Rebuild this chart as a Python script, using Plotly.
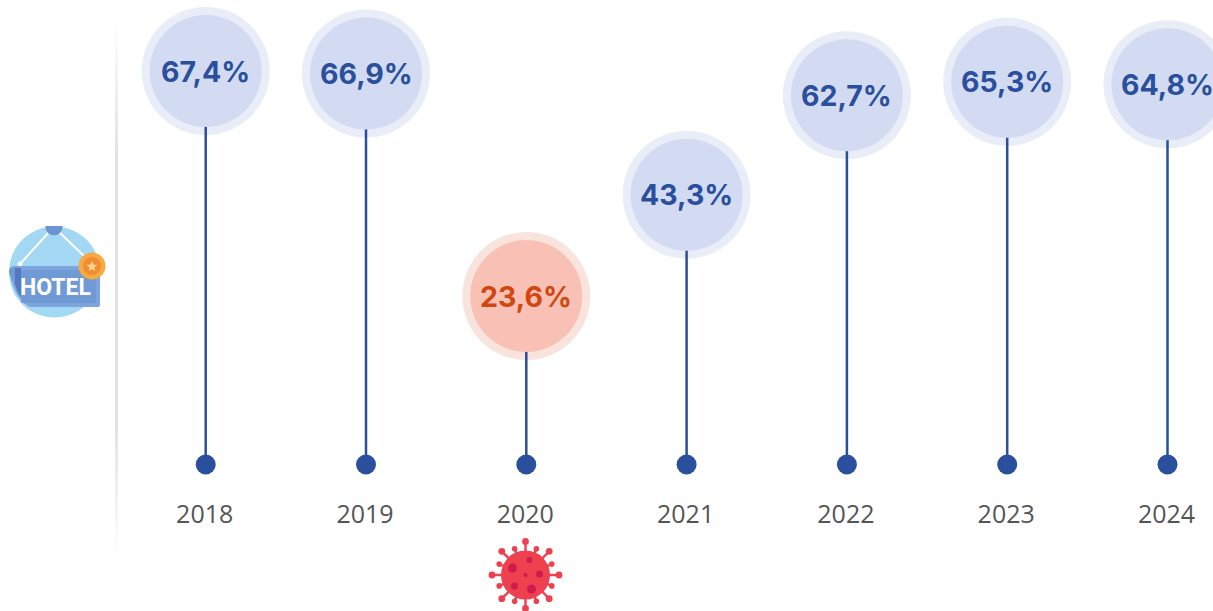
import base64
import math
import plotly.graph_objects as go

years = ["2018", "2019", "2020", "2021", "2022", "2023", "2024"]
rates = [67.4, 66.9, 23.6, 43.3, 62.7, 65.3, 64.8]
labels = ["67,4%", "66,9%", "23,6%", "43,3%", "62,7%", "65,3%", "64,8%"]
covid_year = "2020"
baseline = -9.2

W, H = 1213, 611
PLOT_BOTTOM = 497
BLUE = "#2A4F9C"
outer = ["#F9E3DD" if y == covid_year else "#E9EDF8" for y in years]
inner = ["#F9C1B5" if y == covid_year else "#D3DBF2" for y in years]
text_colors = ["#D0470F" if y == covid_year else BLUE for y in years]


def uri(svg):
    return "data:image/svg+xml;base64," + base64.b64encode(svg.encode()).decode()


def place(svg, left, top, w, h):
    return dict(source=uri(svg), xref="paper", yref="paper", x=left / W,
                y=(PLOT_BOTTOM - top) / PLOT_BOTTOM, sizex=w / W, sizey=h / PLOT_BOTTOM,
                xanchor="left", yanchor="top", sizing="stretch", layer="below")


rule_svg = ('<svg xmlns="http://www.w3.org/2000/svg" width="4" height="540" viewBox="0 0 4 540">'
            '<defs><linearGradient id="g" x1="0" y1="0" x2="0" y2="1">'
            '<stop offset="0" stop-color="#e2e2e2" stop-opacity="0"/>'
            '<stop offset="0.25" stop-color="#e2e2e2"/><stop offset="0.75" stop-color="#e2e2e2"/>'
            '<stop offset="1" stop-color="#e2e2e2" stop-opacity="0"/></linearGradient></defs>'
            '<rect x="0.5" width="3" height="540" fill="url(#g)"/></svg>')

spikes = ""
for k in range(16):
    a = k * math.pi / 8
    r = 33.5 if k % 2 == 0 else 28.5
    kn = 3.4 if k % 2 == 0 else 2.8
    x, y = 38 + r * math.cos(a), 38 + r * math.sin(a)
    spikes += (f'<line x1="38" y1="38" x2="{x:.1f}" y2="{y:.1f}" stroke="#EE4150" stroke-width="2.4"/>'
               f'<circle cx="{x:.1f}" cy="{y:.1f}" r="{kn}" fill="#EE4150"/>')
spots = [(-13, -7, 4.5), (4, -15, 3), (14, -1, 3.5), (0, 0, 2), (-11, 11, 3.5), (6, 14, 4.5)]
spots_svg = "".join(f'<circle cx="{38+a}" cy="{38+b}" r="{c}" fill="#CF1B4B"/>' for a, b, c in spots)
virus_svg = ('<svg xmlns="http://www.w3.org/2000/svg" width="76" height="76" viewBox="0 0 76 76">'
             + spikes + '<circle cx="38" cy="38" r="24.5" fill="#EE4150"/>' + spots_svg + '</svg>')

hotel_svg = ('<svg xmlns="http://www.w3.org/2000/svg" width="110" height="100" viewBox="0 0 110 100">'
             '<circle cx="54.5" cy="46" r="45.5" fill="#A3D8F5"/>'
             '<path d="M20 38 L50 5 M58 5 L84 30" stroke="#fff" stroke-width="2" fill="none"/>'
             '<circle cx="54" cy="1" r="8.5" fill="#6C94D0"/>'
             '<circle cx="20" cy="38" r="2.4" fill="#fff"/>'
             '<path d="M9 46 Q9 40 15 40 L100 40 L100 79 Q100 81 98 81 L30 81 Q16 75 9 46 Z" fill="#7EA4DD"/>'
             '<path d="M9 46 Q9 41 14 41 L15 41 L15 58 Q11 52 9 46 Z" fill="#6F9AD6"/>'
             '<path d="M15 42 L21 42 L21 71 Q17 66 15 58 Z" fill="#5578BE"/>'
             '<rect x="21" y="44" width="75" height="33" rx="1" fill="#6F9AD6"/>'
             '<circle cx="92" cy="40" r="13.5" fill="#F8A93F"/>'
             '<circle cx="92" cy="40" r="9" fill="#F08C33"/>'
             '<path d="M92 35 L93.6 38.6 L97.4 39 L94.5 41.5 L95.3 45 L92 43.2 L88.7 45 L89.5 41.5 L86.6 39 L90.4 38.6 Z" fill="#FFD48A"/>'
             '</svg>')

fig = go.Figure()

fig.add_trace(go.Scatter(x=years, y=rates, mode="markers",
                         marker=dict(size=128, color=outer), hoverinfo="skip", showlegend=False))
for year, rate in zip(years, rates):
    fig.add_trace(go.Scatter(x=[year, year], y=[baseline, rate], mode="lines",
                             line=dict(color=BLUE, width=2.5), hoverinfo="skip", showlegend=False))

fig.add_trace(go.Scatter(x=years, y=[baseline] * len(years), mode="markers",
                         marker=dict(size=20, color=BLUE), hoverinfo="skip", showlegend=False))
fig.add_trace(go.Scatter(x=years, y=rates, mode="markers", text=labels,
                         marker=dict(size=112, color=inner),
                         hovertemplate="%{x}: %{text}<extra></extra>", showlegend=False))

value_notes = [dict(text=lab, x=i, y=r, xref="x", yref="y", showarrow=False,
                    xanchor="center", yanchor="middle",
                    font=dict(family="Inter", size=28.5, color=c, weight="bold"))
               for i, (lab, r, c) in enumerate(zip(labels, rates, text_colors))]

fig.update_layout(
    width=W, height=H, margin=dict(l=0, r=0, t=0, b=H - PLOT_BOTTOM),
    paper_bgcolor="white", plot_bgcolor="white",
    xaxis=dict(type="category", categoryorder="array", categoryarray=years,
               range=[-205.7 / 160.3, (W - 205.7) / 160.3], showgrid=False, zeroline=False, showline=False,
               ticks="", ticklabelshift=-1,
               tickfont=dict(family="Open Sans", size=25, color="#555555")),
    yaxis=dict(range=[23.6 - (PLOT_BOTTOM - 296) / 5.137, 23.6 + 296 / 5.137],
               visible=False, showgrid=False, zeroline=False),
    images=[place(rule_svg, 114.5, 20, 4, 540),
            place(virus_svg, 487.5, 537, 76, 76),
            place(hotel_svg, 0, 226, 110, 100)],
    annotations=value_notes + [dict(text="HOTEL", xref="paper", yref="paper", x=55 / W,
                      y=(PLOT_BOTTOM - 287) / PLOT_BOTTOM, showarrow=False,
                      font=dict(family="Roboto", size=23, color="white", weight="bold"),
                      xanchor="center", yanchor="middle")],
)

fig.write_html("out.html", config={"displayModeBar": False},
               post_script="document.body.style.margin='0';document.body.style.overflow='hidden';")
